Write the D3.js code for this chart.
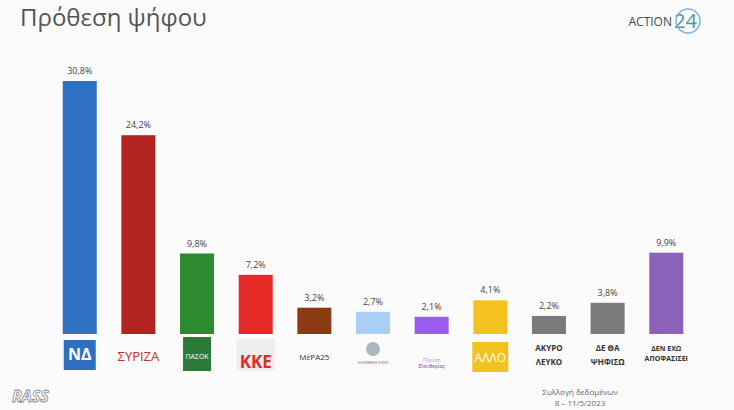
<!DOCTYPE html>
<html><head><meta charset="utf-8">
<script src="https://cdn.jsdelivr.net/npm/d3@7"></script>
<style>body{margin:0;background:#fff;font-family:"Open Sans",sans-serif}</style>
</head><body><svg id="c" width="734" height="410"></svg>
<script>
// party data
const parties = ["ΝΔ","ΣΥΡΙΖΑ","ΠΑΣΟΚ","ΚΚΕ","ΜέΡΑ25","Ελληνική Λύση","Πλεύση Ελευθερίας","ΑΛΛΟ","ΑΚΥΡΟ ΛΕΥΚΟ","ΔΕ ΘΑ ΨΗΦΙΣΩ","ΔΕΝ ΕΧΩ ΑΠΟΦΑΣΙΣΕΙ"];
const values = [30.8,24.2,9.8,7.2,3.2,2.7,2.1,4.1,2.2,3.8,9.9];
const colors = ["#2f72c4","#b3231f","#2c8a2f","#e52a26","#8b3a12","#a9cff5","#9b5cf0","#f4c21f","#7b7b7b","#7b7b7b","#8c62b8"];

const svg = d3.select("#c");
svg.append("rect").attr("width",734).attr("height",410).attr("fill","#fbfbfb");

svg.append("text").attr("x",20).attr("y",26).attr("font-size",24).attr("fill","#555")
  .attr("font-family","Open Sans, sans-serif").text("Πρόθεση ψήφου");
svg.append("text").attr("x",672).attr("y",26).attr("font-size",12).attr("fill","#3a4a5a")
  .attr("text-anchor","end").text("ACTION");
svg.append("text").attr("x",674).attr("y",28).attr("font-size",20).attr("fill","#4a8fc0").text("24");
svg.append("circle").attr("cx",688).attr("cy",21).attr("r",12).attr("fill","none").attr("stroke","#7fb3d8").attr("stroke-width",1.5);

const x = d3.scaleBand().domain(parties).range([51,695]).paddingInner(0.42).paddingOuter(0.2);
const y = d3.scaleLinear().domain([0,30.8]).range([334,81]);

svg.selectAll(".bar").data(parties).enter().append("rect")
  .attr("x",d=>x(d)).attr("width",x.bandwidth())
  .attr("y",(d,i)=>y(values[i])).attr("height",(d,i)=>334-y(values[i]))
  .attr("fill",(d,i)=>colors[i]);

svg.selectAll(".val").data(parties).enter().append("text")
  .attr("x",d=>x(d)+x.bandwidth()/2).attr("y",(d,i)=>y(values[i])-7)
  .attr("text-anchor","middle").attr("font-size",9).attr("fill","#444")
  .text((d,i)=>values[i].toFixed(1).replace(".",",")+"%");

// logo-like labels under bars
const g = svg.selectAll(".lab").data(parties).enter().append("g")
  .attr("transform",d=>`translate(${x(d)+x.bandwidth()/2},357)`);
g.each(function(d,i){
  const s = d3.select(this);
  if(i===0){s.append("rect").attr("x",-16).attr("y",-17).attr("width",32).attr("height",30).attr("fill","#2f6fc0");
    s.append("text").attr("y",3).attr("text-anchor","middle").attr("font-size",16).attr("font-weight","bold").attr("fill","#fff").text("ΝΔ");}
  else if(i===1){s.append("text").attr("y",4).attr("text-anchor","middle").attr("font-size",13).attr("fill","#c0302b").text("ΣΥΡΙΖΑ");}
  else if(i===2){s.append("rect").attr("x",-14).attr("y",-20).attr("width",28).attr("height",34).attr("fill","#2c7a3a");
    s.append("text").attr("y",2).attr("text-anchor","middle").attr("font-size",7).attr("fill","#fff").text("ΠΑΣΟΚ");}
  else if(i===3){s.append("rect").attr("x",-19).attr("y",-18).attr("width",38).attr("height",32).attr("fill","#eee");
    s.append("text").attr("y",11).attr("text-anchor","middle").attr("font-size",17).attr("font-weight","bold").attr("fill","#e32a26").text("ΚΚΕ");}
  else if(i===4){s.append("text").attr("y",3).attr("text-anchor","middle").attr("font-size",8).attr("fill","#333").text("ΜέΡΑ25");}
  else if(i===5){s.append("circle").attr("cy",-8).attr("r",7).attr("fill","#aab8c0");
    s.append("text").attr("y",7).attr("text-anchor","middle").attr("font-size",4).attr("fill","#555").text("ΕΛΛΗΝΙΚΗ ΛΥΣΗ");}
  else if(i===6){s.append("text").attr("y",5).attr("text-anchor","middle").attr("font-size",5).attr("fill","#b58fd0").text("Πλεύση");
    s.append("text").attr("y",11).attr("text-anchor","middle").attr("font-size",5).attr("fill","#6b3aa0").text("Ελευθερίας");}
  else if(i===7){s.append("rect").attr("x",-18).attr("y",-15).attr("width",36).attr("height",30).attr("fill","#f4c21f");
    s.append("text").attr("y",5).attr("text-anchor","middle").attr("font-size",12).attr("fill","#fff").text("ΑΛΛΟ");}
  else {const w=d.split(" "); const lines = i===10?["ΔΕΝ ΕΧΩ","ΑΠΟΦΑΣΙΣΕΙ"]:[w[0]+(i===9?" "+w[1]:""), i===9?w[2]:w[1]];
    const fs = i===10?7:8;
    lines.forEach((t,k)=>s.append("text").attr("y",-6+k*(i===10?10:14)).attr("text-anchor","middle").attr("font-size",fs).attr("font-weight","bold").attr("fill","#333").text(t));}
});

svg.append("text").attr("x",12).attr("y",402).attr("font-size",16).attr("font-style","italic").attr("font-weight","bold")
  .attr("fill","#fff").attr("stroke","#888").attr("stroke-width",0.8).text("RASS");
svg.append("text").attr("x",580).attr("y",395).attr("text-anchor","middle").attr("font-size",8).attr("fill","#666").text("Συλλογή δεδομένων");
svg.append("text").attr("x",580).attr("y",406).attr("text-anchor","middle").attr("font-size",8).attr("fill","#666").text("8 – 11/5/2023");
</script></body></html>
